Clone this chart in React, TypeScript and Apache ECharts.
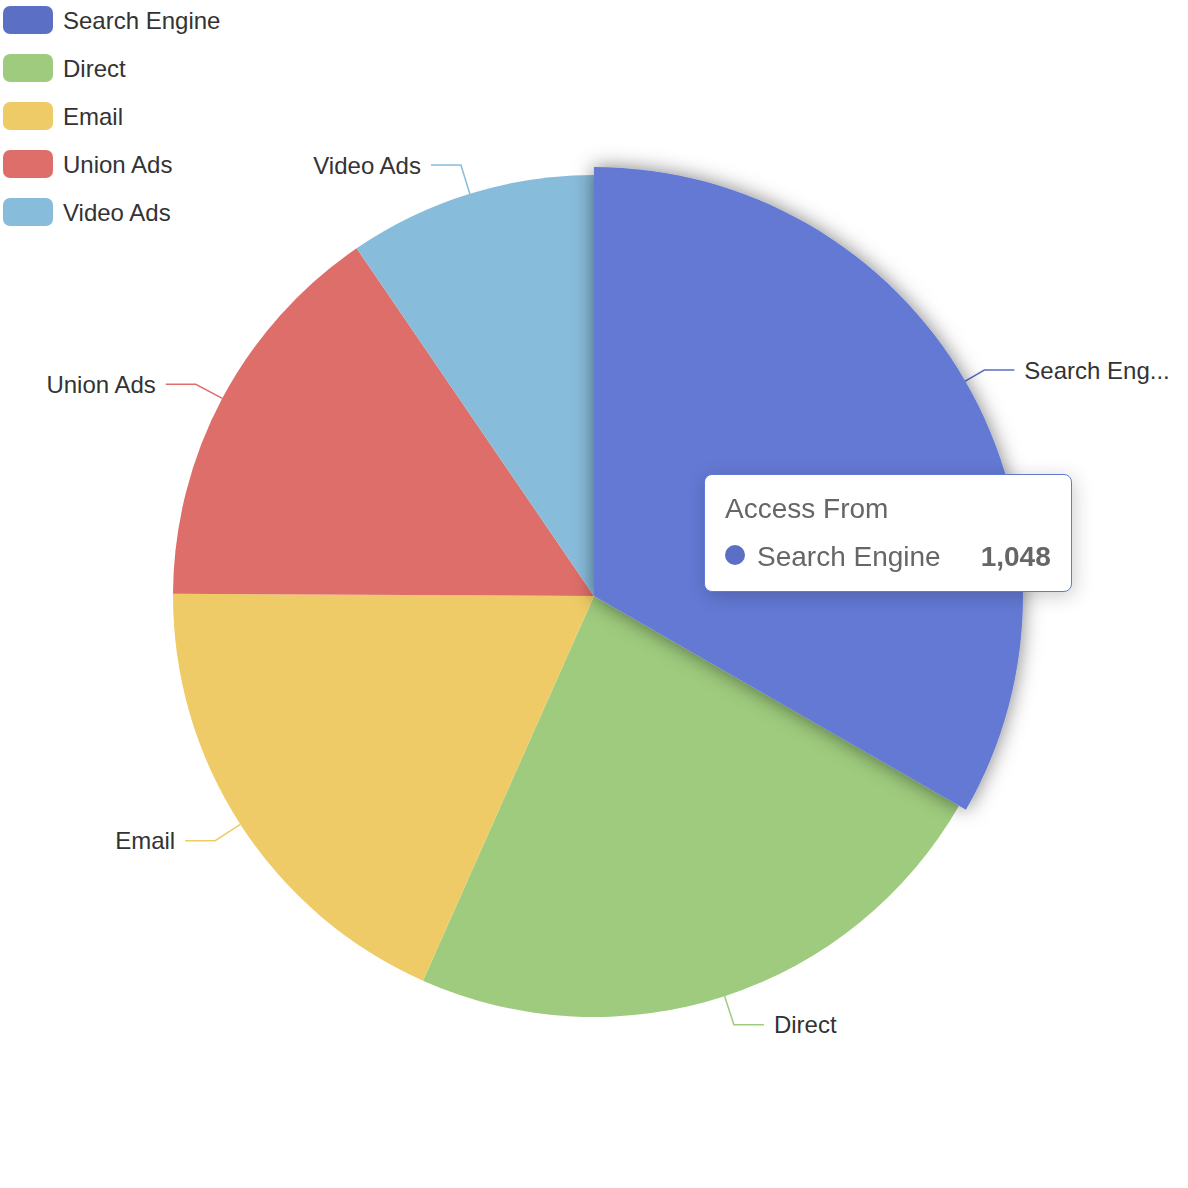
import React, { useEffect, useRef } from "react";
import * as echarts from "echarts";

const seriesName = "Access From";
const categories = ["Search Engine", "Direct", "Email", "Union Ads", "Video Ads"];
const values = [1048, 735, 580, 484, 300];
const colors = ["#5b6fc5", "#9ecb7d", "#efcb67", "#dd6e6a", "#88bcdb"];

const FONT = '"Liberation Sans", Arial, Helvetica, sans-serif';

export default function App() {
  const ref = useRef<HTMLDivElement>(null);
  useEffect(() => {
    if (!ref.current) return;
    document.body.style.margin = "0";
    const chart = echarts.init(ref.current, undefined, { renderer: "svg" });
    const data = categories.map((name, i) =>
      i === 0
        ? { name, value: values[i], label: { width: 150, overflow: "truncate" } }
        : { name, value: values[i] }
    );
    chart.setOption({
      animation: false,
      color: colors,
      textStyle: { fontFamily: FONT },
      tooltip: {
        trigger: "item",
        alwaysShowContent: true,
        position: [704, 474],
        padding: 20,
        borderWidth: 1,
        borderColor: "#6278d4",
        borderRadius: 8,
        backgroundColor: "#fff",
        extraCssText: "box-shadow: 2px 4px 20px rgba(0,0,0,0.2);",
        formatter: (p: any) => {
          const v = Number(p.value).toLocaleString("en-US");
          return (
            `<div style="font-family:${FONT.replace(/"/g, "'")};line-height:1;">` +
            `<div style="font-size:28px;color:#666;line-height:1;">${p.seriesName}</div>` +
            `<div style="margin-top:20px;font-size:28px;color:#666;line-height:1;white-space:nowrap;">` +
            `<span style="display:inline-block;width:20px;height:20px;border-radius:10px;background:#5b6fc5;margin-right:12px;vertical-align:1px;"></span>` +
            `<span>${p.name}</span>` +
            `<span style="float:right;margin-left:40px;font-weight:900;">${v}</span>` +
            `</div></div>`
          );
        },
      },
      legend: {
        orient: "vertical",
        left: 3,
        top: 6,
        padding: 0,
        itemWidth: 50,
        itemHeight: 28,
        itemGap: 20,
        textStyle: { fontSize: 24, color: "#333", fontFamily: FONT, padding: [0, 0, 0, 5] },
      },
      series: [
        {
          name: seriesName,
          type: "pie",
          radius: 421,
          center: ["50%", 596],
          data,
          label: { fontSize: 24, color: "#333", fontFamily: FONT, distanceToLabelLine: 10 },
          labelLine: { length: 30, length2: 30, lineStyle: { width: 1.5 } },
          emphasis: {
            scale: true,
            scaleSize: 8,
            itemStyle: { shadowBlur: 20, shadowOffsetX: 0, shadowColor: "rgba(0,0,0,0.5)", color: "#6379d4" },
            label: { fontSize: 24, fontWeight: "normal" },
          },
        },
      ],
    });
    chart.dispatchAction({ type: "highlight", seriesIndex: 0, dataIndex: 0 });
    chart.dispatchAction({ type: "showTip", seriesIndex: 0, dataIndex: 0 });
    return () => chart.dispose();
  }, []);
  return (
    <div
      ref={ref}
      style={{ position: "fixed", left: 0, top: 0, width: 1188, height: 1188 }}
    />
  );
}
